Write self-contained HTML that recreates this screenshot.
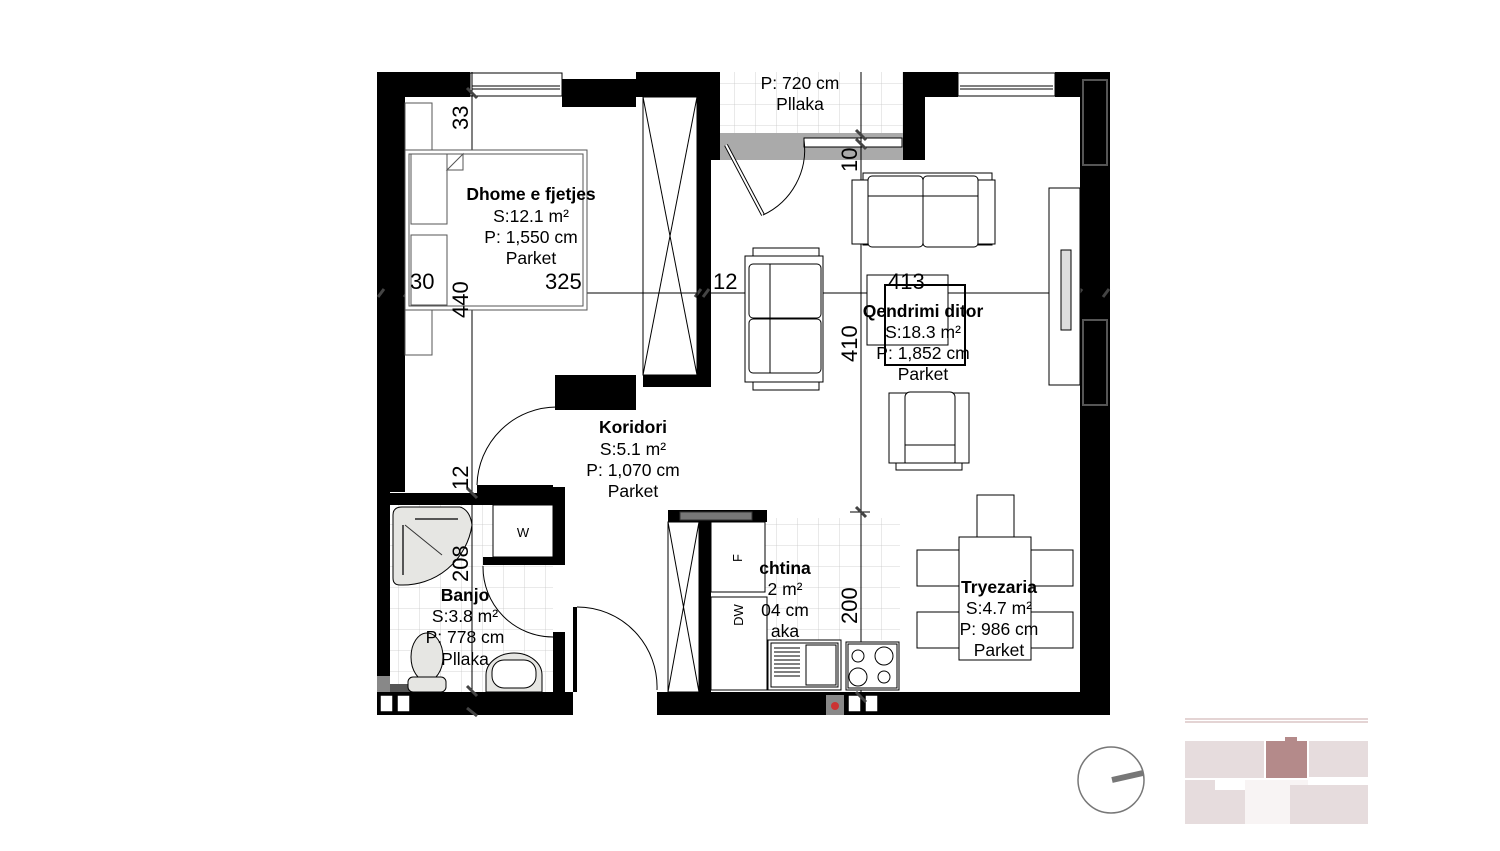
<!DOCTYPE html>
<html><head><meta charset="utf-8"><style>
html,body{margin:0;padding:0;background:#fff;}
svg{display:block;}
text{font-family:"Liberation Sans",Arial,sans-serif;fill:#000;}
.t{font-size:17.5px;text-anchor:middle;}
.b{font-weight:bold;}
.d{font-size:22px;}
</style></head><body>
<svg width="1500" height="851" viewBox="0 0 1500 851" xmlns="http://www.w3.org/2000/svg">
<defs>
<pattern id="tile2" width="21" height="21" patternUnits="userSpaceOnUse">
<path d="M21 0V21H0" fill="none" stroke="#c8c8c8" stroke-width="0.8"/>
</pattern>
</defs>
<rect x="390" y="505" width="163" height="187" fill="url(#tile2)"/>
<rect x="720" y="72" width="183" height="62" fill="url(#tile2)"/>
<rect x="765" y="518" width="135" height="122" fill="url(#tile2)"/>

<g fill="#000">
<rect x="377" y="72" width="93" height="25"/>
<rect x="377" y="72" width="28" height="420"/>
<rect x="377" y="492" width="13" height="223"/>
<rect x="562" y="79" width="74" height="28"/>
<rect x="636" y="72" width="84" height="25"/>
<rect x="697" y="97" width="14" height="290"/>
<rect x="697" y="72" width="23" height="88"/>
<rect x="643" y="375" width="68" height="12"/>
<rect x="555" y="375" width="81" height="35"/>
<rect x="903" y="72" width="22" height="88"/>
<rect x="925" y="72" width="33" height="25"/>
<rect x="1055" y="72" width="55" height="25"/>
<rect x="1080" y="72" width="30" height="643"/>
<rect x="657" y="692" width="453" height="23"/>
<rect x="377" y="692" width="196" height="23"/>
<rect x="390" y="493" width="175" height="12"/>
<rect x="553" y="487" width="12" height="78"/>
<rect x="483" y="557" width="70" height="8"/>
<rect x="553" y="632" width="12" height="60"/>
<rect x="565" y="692" width="8" height="23"/>
<rect x="477" y="485" width="76" height="8"/>
<rect x="668" y="510" width="99" height="12"/>
<rect x="699" y="522" width="12" height="170"/>
</g>
<rect x="1083" y="80" width="24" height="85" fill="none" stroke="#555" stroke-width="2"/>
<rect x="1083" y="320" width="24" height="85" fill="none" stroke="#555" stroke-width="2"/>
<rect x="680" y="512" width="72" height="8" fill="#777" stroke="#333"/>
<rect x="377" y="676" width="13" height="16" fill="#888"/>
<rect x="390" y="684" width="30" height="8" fill="#555"/>
<g fill="#fff" stroke="#000" stroke-width="1.5">
<rect x="380" y="695" width="13" height="17"/><rect x="397" y="695" width="13" height="17"/>
<rect x="848" y="695" width="13" height="17"/><rect x="865" y="695" width="13" height="17"/>
</g>
<rect x="826" y="695" width="18" height="20" fill="#888"/>
<circle cx="835" cy="706" r="4" fill="#c33"/>

<g fill="#fff" stroke="#000" stroke-width="1">
<rect x="470" y="73" width="92" height="23"/>
<line x1="472" y1="86" x2="560" y2="86"/><line x1="472" y1="89" x2="560" y2="89"/>
<rect x="958" y="73" width="97" height="23"/>
<line x1="960" y1="86" x2="1053" y2="86"/><line x1="960" y1="89" x2="1053" y2="89"/>
</g>
<rect x="720" y="133" width="183" height="27" fill="#aaa"/>
<rect x="804" y="138" width="98" height="9" fill="#fff" stroke="#000"/>
<line x1="726" y1="145" x2="763" y2="215" stroke="#000" stroke-width="4"/>
<line x1="726" y1="145" x2="763" y2="215" stroke="#fff" stroke-width="2"/>
<path d="M763 215 A72 72 0 0 0 804 140" fill="none" stroke="#000"/>

<g stroke="#000" stroke-width="1" fill="none">
<line x1="377" y1="293" x2="1110" y2="293"/>
<line x1="472" y1="72" x2="472" y2="715"/>
<line x1="861" y1="72" x2="861" y2="715"/>
<line x1="850" y1="512" x2="870" y2="512"/>
</g>
<g stroke="#444" stroke-width="3">
<line x1="378" y1="297" x2="384" y2="289"/><line x1="404" y1="297" x2="410" y2="289"/>
<line x1="695" y1="297" x2="701" y2="289"/><line x1="703" y1="297" x2="709" y2="289"/>
<line x1="1076" y1="297" x2="1082" y2="289"/><line x1="1103" y1="297" x2="1109" y2="289"/>
<line x1="467" y1="88" x2="477" y2="98"/><line x1="467" y1="488" x2="477" y2="498"/>
<line x1="467" y1="686" x2="477" y2="696"/><line x1="467" y1="708" x2="477" y2="716"/>
<line x1="856" y1="130" x2="866" y2="140"/><line x1="856" y1="139" x2="866" y2="149"/>
<line x1="856" y1="507" x2="866" y2="517"/><line x1="856" y1="692" x2="866" y2="702"/>
</g>

<g fill="#fff" stroke="#555" stroke-width="1">
<rect x="405" y="103" width="27" height="47"/>
<rect x="405" y="310" width="27" height="45"/>
<rect x="405" y="150" width="182" height="160"/>
<rect x="409" y="154" width="174" height="152"/>
<rect x="411" y="154" width="36" height="70"/>
<rect x="411" y="235" width="36" height="70"/>
<path d="M447 170 L463 154 L463 170 Z"/>
</g>
<g fill="none" stroke="#000" stroke-width="1">
<rect x="643" y="97" width="54" height="278"/>
<line x1="643" y1="97" x2="697" y2="375"/><line x1="697" y1="97" x2="643" y2="375"/>
<rect x="668" y="522" width="31" height="170"/>
<line x1="668" y1="522" x2="699" y2="692"/><line x1="699" y1="522" x2="668" y2="692"/>
</g>

<g fill="none" stroke="#000" stroke-width="1">
<path d="M477 485 A80 80 0 0 1 557 407"/>
<path d="M483 566 A70 70 0 0 0 553 637"/>
<path d="M577 607 A80 80 0 0 1 657 690"/>
<line x1="575" y1="607" x2="575" y2="692" stroke-width="4"/>
</g>

<path d="M393 515 Q393 507 402 507 L460 507 Q470 510 472 525 A70 70 0 0 1 400 585 Q393 585 393 578 Z" fill="#e6e6e3" stroke="#000"/>
<line x1="405" y1="525" x2="442" y2="555" stroke="#333"/>
<line x1="403" y1="525" x2="403" y2="575" stroke="#555" stroke-width="2"/>
<line x1="415" y1="519" x2="458" y2="519" stroke="#555" stroke-width="2"/>
<rect x="493" y="505" width="60" height="52" fill="#fff" stroke="#000"/>
<text x="523" y="537" style="font-size:13px" text-anchor="middle">W</text>
<ellipse cx="427" cy="657" rx="16" ry="24" fill="#e6e6e3" stroke="#000"/>
<rect x="408" y="677" width="38" height="15" rx="5" fill="#e6e6e3" stroke="#000"/>
<path d="M486 692 L486 675 A28 22 0 0 1 542 675 L542 692 Z" fill="#e6e6e3" stroke="#000"/>
<rect x="492" y="660" width="44" height="28" rx="12" fill="#fff" stroke="#000"/>

<g fill="#fff" stroke="#000" stroke-width="1">
<rect x="711" y="522" width="54" height="70"/>
<rect x="711" y="597" width="56" height="93"/>
<rect x="768" y="640" width="73" height="50"/>
<rect x="771" y="643" width="67" height="44"/>
<rect x="806" y="645" width="30" height="40"/>
<rect x="846" y="642" width="53" height="48"/>
<rect x="848" y="644" width="49" height="44"/>
<circle cx="858" cy="656" r="6"/><circle cx="884" cy="656" r="9"/>
<circle cx="858" cy="677" r="9"/><circle cx="884" cy="677" r="6"/>
</g>
<g stroke="#000" stroke-width="1">
<line x1="774" y1="648" x2="800" y2="648"/><line x1="774" y1="652" x2="800" y2="652"/>
<line x1="774" y1="656" x2="800" y2="656"/><line x1="774" y1="660" x2="800" y2="660"/>
<line x1="774" y1="664" x2="800" y2="664"/><line x1="774" y1="668" x2="800" y2="668"/>
<line x1="774" y1="672" x2="800" y2="672"/><line x1="774" y1="676" x2="800" y2="676"/>
</g>
<text transform="translate(742,558) rotate(-90)" style="font-size:13px" text-anchor="middle">F</text>
<text transform="translate(743,615) rotate(-90)" style="font-size:13px" text-anchor="middle">DW</text>

<g fill="#fff" stroke="#000" stroke-width="1">
<rect x="863" y="173" width="129" height="72"/>
<rect x="852" y="180" width="143" height="64"/>
<rect x="868" y="176" width="55" height="71" rx="4"/><rect x="923" y="176" width="55" height="71" rx="4"/>
<line x1="868" y1="196" x2="978" y2="196"/>
<rect x="753" y="248" width="66" height="142"/>
<rect x="745" y="256" width="78" height="126"/>
<rect x="749" y="264" width="72" height="54" rx="4"/><rect x="749" y="319" width="72" height="54" rx="4"/>
<line x1="770" y1="264" x2="770" y2="373"/>
<rect x="867" y="275" width="81" height="70"/>
<rect x="885" y="285" width="80" height="80" stroke-width="2" fill="none"/>
<rect x="889" y="393" width="80" height="70"/>
<rect x="905" y="392" width="50" height="75" rx="5"/>
<line x1="905" y1="445" x2="955" y2="445"/>
<rect x="896" y="463" width="66" height="7"/>
<rect x="1049" y="188" width="31" height="197"/>
<rect x="1061" y="250" width="10" height="80" fill="#ddd"/>
<rect x="977" y="495" width="37" height="42"/>
<rect x="959" y="537" width="72" height="123"/>
<rect x="917" y="550" width="42" height="36"/><rect x="917" y="612" width="42" height="36"/>
<rect x="1031" y="550" width="42" height="36"/><rect x="1031" y="612" width="42" height="36"/>
</g>

<text class="t b" x="531" y="200">Dhome e fjetjes</text>
<text class="t" x="531" y="222">S:12.1 m²</text>
<text class="t" x="531" y="243">P: 1,550 cm</text>
<text class="t" x="531" y="264">Parket</text>
<text class="t b" x="633" y="433">Koridori</text>
<text class="t" x="633" y="455">S:5.1 m²</text>
<text class="t" x="633" y="476">P: 1,070 cm</text>
<text class="t" x="633" y="497">Parket</text>
<text class="t b" x="923" y="317">Qendrimi ditor</text>
<text class="t" x="923" y="338">S:18.3 m²</text>
<text class="t" x="923" y="359">P: 1,852 cm</text>
<text class="t" x="923" y="380">Parket</text>
<text class="t b" x="999" y="593">Tryezaria</text>
<text class="t" x="999" y="614">S:4.7 m²</text>
<text class="t" x="999" y="635">P: 986 cm</text>
<text class="t" x="999" y="656">Parket</text>
<text class="t b" x="465" y="601">Banjo</text>
<text class="t" x="465" y="622">S:3.8 m²</text>
<text class="t" x="465" y="643">P: 778 cm</text>
<text class="t" x="465" y="665">Pllaka</text>
<text class="t b" x="785" y="574">chtina</text>
<text class="t" x="785" y="595">2 m²</text>
<text class="t" x="785" y="616">04 cm</text>
<text class="t" x="785" y="637">aka</text>
<text class="t" x="800" y="89">P: 720 cm</text>
<text class="t" x="800" y="110">Pllaka</text>

<text class="d" x="410" y="289">30</text>
<text class="d" x="545" y="289">325</text>
<text class="d" x="713" y="289">12</text>
<text class="d" x="888" y="289">413</text>
<text class="d" transform="translate(468,130) rotate(-90)">33</text>
<text class="d" transform="translate(468,318) rotate(-90)">440</text>
<text class="d" transform="translate(468,490) rotate(-90)">12</text>
<text class="d" transform="translate(468,582) rotate(-90)">208</text>
<text class="d" transform="translate(857,172) rotate(-90)">10</text>
<text class="d" transform="translate(857,362) rotate(-90)">410</text>
<text class="d" transform="translate(857,624) rotate(-90)">200</text>

<circle cx="1111" cy="780" r="33" fill="none" stroke="#777" stroke-width="1.5"/>
<line x1="1112" y1="780" x2="1143" y2="773" stroke="#777" stroke-width="6"/>

<line x1="1185" y1="719" x2="1368" y2="719" stroke="#c9a9a9"/>
<line x1="1185" y1="722" x2="1368" y2="722" stroke="#c9a9a9"/>
<rect x="1185" y="741" width="79" height="37" fill="#e6dcdd"/>
<rect x="1266" y="741" width="41" height="37" fill="#b48a8a"/>
<rect x="1285" y="737" width="12" height="5" fill="#b48a8a"/>
<rect x="1309" y="741" width="59" height="36" fill="#e6dcdd"/>
<rect x="1185" y="780" width="30" height="44" fill="#e6dcdd"/>
<rect x="1215" y="790" width="30" height="34" fill="#e6dcdd"/>
<rect x="1245" y="780" width="63" height="44" fill="#f8f4f4"/>
<rect x="1290" y="785" width="78" height="39" fill="#e6dcdd"/>
</svg>
</body></html>
